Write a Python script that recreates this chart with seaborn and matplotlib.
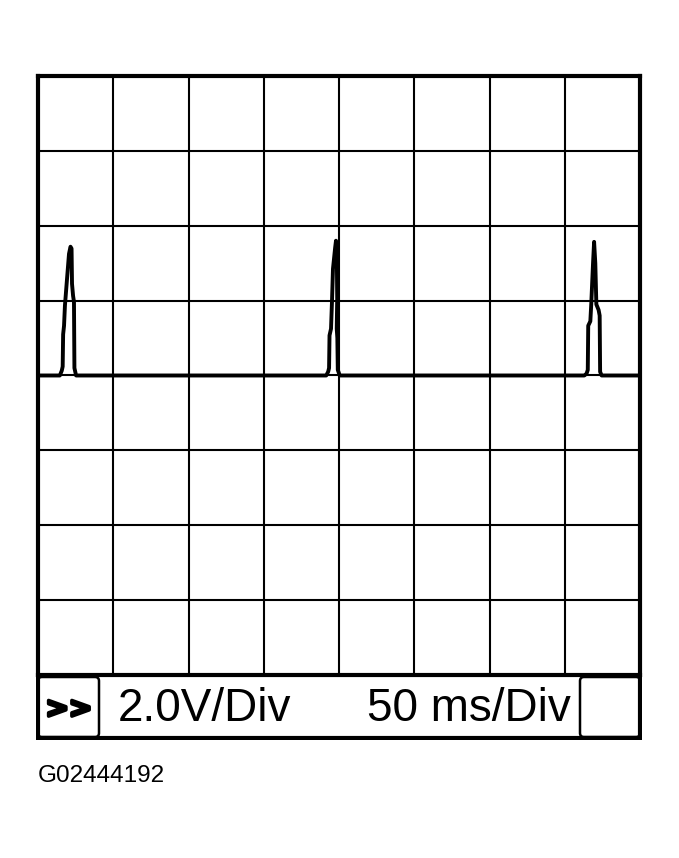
"""
Scope trace: 2.0 V/Div, 50 ms/Div
"""
import numpy as np
import pandas as pd
import matplotlib
matplotlib.use("Agg")
import matplotlib.pyplot as plt
import matplotlib.patheffects as pe
from matplotlib.patches import FancyBboxPatch
import seaborn as sns

# screen settings
volts_per_div = 2.0
ms_per_div = 50
n_div_x = 8
n_div_y = 8

# trace data (time in ms, voltage in V)
spike1_t = [14.5, 15.8, 16.4, 16.7, 17.3, 17.9, 19.3, 20.6, 21.6, 22.3, 22.6, 23.3, 23.9, 24.2, 25.3]
spike1_v = [0.0, 0.13, 0.24, 1.1, 1.33, 1.87, 2.59, 3.25, 3.44, 3.39, 2.45, 2.13, 1.97, 0.2, 0.0]

spike2_t = [191.5, 192.8, 193.4, 193.7, 194.7, 195.4, 196.0, 197.4, 198.0, 198.6, 198.8, 198.5, 198.9, 199.2, 200.5]
spike2_v = [0.0, 0.1, 0.2, 1.07, 1.25, 2.05, 2.85, 3.4, 3.6, 3.05, 2.05, 1.25, 1.0, 0.15, 0.0]

spike3_t = [363.0, 364.5, 365.3, 365.6, 367.0, 367.6, 368.8, 369.5, 370.3, 371.0, 372.5, 373.2, 373.5, 374.5]
spike3_v = [0.0, 0.05, 0.15, 1.33, 1.45, 1.9, 3.0, 3.57, 3.0, 1.9, 1.75, 1.6, 0.1, 0.0]

start_t, end_t = 0.0, 400.0

scale_labels = ["2.0V/Div", "50 ms/Div"]
figure_code = "G02444192"

trace = pd.DataFrame({
    "t": [start_t] + spike1_t + spike2_t + spike3_t + [end_t],
    "v": [0.0] + spike1_v + spike2_v + spike3_v + [0.0],
})

sns.set_style("white")
plt.rcParams["font.family"] = ["Liberation Sans", "DejaVu Sans"]
plt.rcParams["text.color"] = "black"

W, H = 679, 858
fig = plt.figure(figsize=(W / 100, H / 100), dpi=100)

# main scope grid
ax = fig.add_axes([38 / W, 1 - 675 / H, 602 / W, 599 / H])
ax.set_xlim(0, ms_per_div * n_div_x)
ax.set_ylim(-volts_per_div * n_div_y / 2, volts_per_div * n_div_y / 2)
ax.set_xticks(np.arange(0, ms_per_div * n_div_x + 1, ms_per_div))
ax.set_yticks(np.arange(-8, 9, volts_per_div))
ax.grid(True, color="black", linewidth=1.5)
ax.tick_params(length=0, labelbottom=False, labelleft=False)
for sp in ax.spines.values():
    sp.set_linewidth(3)
    sp.set_color("black")

sns.lineplot(data=trace, x="t", y="v", sort=False, estimator=None,
             color="black", linewidth=2.8, ax=ax)
ax.set_xlabel("")
ax.set_ylabel("")

# bottom status bar (pixel coordinates)
bar = fig.add_axes([36 / W, 1 - 740 / H, 606 / W, 67 / H])
bar.set_xlim(36, 642)
bar.set_ylim(740, 673)
bar.axis("off")

bar.plot([38, 38, 640, 640], [675, 738, 738, 675], color="black", linewidth=3,
         solid_joinstyle="miter")
bar.add_patch(FancyBboxPatch((38, 677), 61, 60, boxstyle="round,pad=0,rounding_size=4",
                             facecolor="none", edgecolor="black", linewidth=1.8))
bar.add_patch(FancyBboxPatch((580, 677), 60, 60, boxstyle="round,pad=0,rounding_size=4",
                             facecolor="none", edgecolor="black", linewidth=1.8))

bar.text(69, 709, ">>", ha="center", va="center", fontsize=20, fontweight="bold",
         family="DejaVu Sans", color="black",
         path_effects=[pe.withStroke(linewidth=2.5, foreground="black")])
bar.text(118, 709, scale_labels[0], ha="left", va="center", fontsize=33, color="black")
bar.text(571, 709, scale_labels[1], ha="right", va="center", fontsize=33, color="black")

fig.text(38 / W, 1 - 776 / H, figure_code, ha="left", va="center", fontsize=17.5,
         color="black")

fig.savefig("out.png", dpi=100, facecolor="white")
